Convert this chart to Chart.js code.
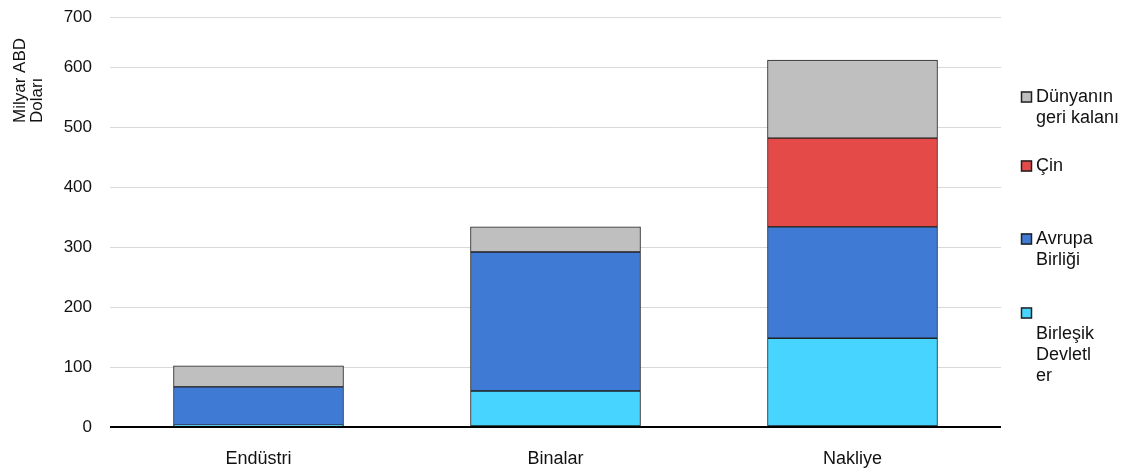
<!DOCTYPE html>
<html>
<head>
<meta charset="utf-8">
<script src="https://cdn.jsdelivr.net/npm/chart.js@4"></script>
<style>
  html, body { margin: 0; padding: 0; background: #fff; }
  #wrap { width: 1128px; height: 468px; }
</style>
</head>
<body>
<div id="wrap"><canvas id="c" width="1128" height="468"></canvas></div>
<script>
// Sectors on the x axis
const categories = ['Endüstri', 'Binalar', 'Nakliye'];

// Values in billions of US dollars, stacked bottom to top
const birlesikDevletler = [3, 60, 148];
const avrupaBirligi = [64, 232, 186];
const cin = [0, 0, 148];
const dunyaninGeriKalani = [35, 42, 130];

// Series names and how they wrap in the side legend
const seriesNames = ['Birleşik Devletler', 'Avrupa Birliği', 'Çin', 'Dünyanın geri kalanı'];
const legendLines = [
  ['', 'Birleşik', 'Devletl', 'er'],
  ['Avrupa', 'Birliği'],
  ['Çin'],
  ['Dünyanın', 'geri kalanı']
];

// Value axis tick values and their labels
const tickValues = [0, 100, 200, 300, 400, 500, 600, 684];
const tickLabels = ['0', '100', '200', '300', '400', '500', '600', '700'];

const axisTitleLines = ['Milyar ABD', 'Doları'];

const FONT = '"Liberation Sans", Arial, sans-serif';
const colors = ['#47d4fe', '#3f7ad4', '#e34a48', '#bfbfbf'];

// Side legend, top item is the last stacked series
const sideLegend = {
  id: 'sideLegend',
  afterDraw(chart) {
    const ctx = chart.ctx;
    const firstLineY = [313, 239, 166, 97];
    const lineH = 21;
    const boxX = 1021, textX = 1036, box = 11;
    ctx.save();
    ctx.font = '18px ' + FONT;
    ctx.textBaseline = 'middle';
    ctx.textAlign = 'left';
    chart.data.datasets.forEach((ds, i) => {
      const y0 = firstLineY[i];
      ctx.fillStyle = ds.backgroundColor;
      ctx.fillRect(boxX, y0 - box / 2, box, box);
      ctx.strokeStyle = '#222';
      ctx.lineWidth = 1.5;
      ctx.strokeRect(boxX + 0.5, y0 - box / 2 + 0.5, box - 1, box - 1);
      ctx.fillStyle = '#111';
      legendLines[i].forEach((line, k) => {
        ctx.fillText(line, textX, y0 + k * lineH);
      });
    });
    ctx.restore();
  }
};

// Rotated two-line title for the value axis
const axisTitle = {
  id: 'axisTitle',
  afterDraw(chart) {
    const ctx = chart.ctx;
    ctx.save();
    ctx.font = '17px ' + FONT;
    ctx.fillStyle = '#111';
    ctx.textBaseline = 'middle';
    ctx.textAlign = 'left';
    const xs = [20, 37];
    axisTitleLines.forEach((line, k) => {
      ctx.save();
      ctx.translate(xs[k], 123);
      ctx.rotate(-Math.PI / 2);
      ctx.fillText(line, 0, 0);
      ctx.restore();
    });
    ctx.restore();
  }
};

const datasets = [birlesikDevletler, avrupaBirligi, cin, dunyaninGeriKalani].map((vals, i) => ({
  label: seriesNames[i],
  data: vals,
  backgroundColor: colors[i],
  borderColor: '#222',
  borderWidth: 1,
  borderSkipped: false,
  barThickness: 170
}));

new Chart(document.getElementById('c'), {
  type: 'bar',
  data: { labels: categories, datasets },
  options: {
    responsive: false,
    animation: false,
    devicePixelRatio: 1,
    layout: { padding: { left: 0, right: 127, top: 17, bottom: 0 } },
    plugins: {
      legend: { display: false },
      tooltip: { enabled: false }
    },
    scales: {
      x: {
        stacked: true,
        grid: { display: false, drawTicks: false },
        border: { display: false },
        ticks: { color: '#111', font: { family: FONT, size: 18 }, padding: 21 },
        afterFit(s) { s.height = 41; }
      },
      y: {
        stacked: true,
        min: 0,
        max: tickValues[tickValues.length - 1],
        afterBuildTicks(s) { s.ticks = tickValues.map(v => ({ value: v })); },
        grid: {
          drawTicks: false,
          color: c => (c.tick && c.tick.value === 0 ? '#000' : '#d9d9d9'),
          lineWidth: c => (c.tick && c.tick.value === 0 ? 2 : 1)
        },
        border: { display: false },
        ticks: {
          color: '#111',
          font: { family: FONT, size: 17 },
          padding: 18,
          callback: (v) => tickLabels[tickValues.indexOf(v)]
        },
        afterFit(s) {
          s.width = 110;
          s.paddingTop = 0;
          s.paddingBottom = 0;
        }
      }
    }
  },
  plugins: [sideLegend, axisTitle]
});
</script>
</body>
</html>
